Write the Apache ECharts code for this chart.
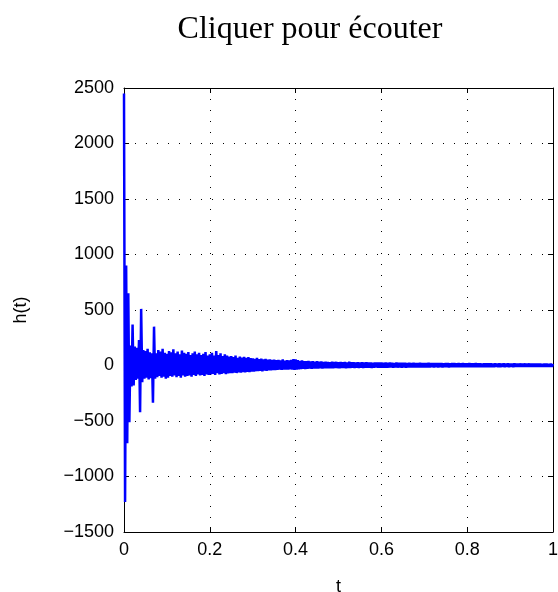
<!DOCTYPE html>
<html>
<head>
<meta charset="utf-8">
<script src="https://cdn.jsdelivr.net/npm/echarts@6/dist/echarts.min.js"></script>
<style>
html,body{margin:0;padding:0;background:#fff;}
#chart{width:558px;height:592px;}
</style>
</head>
<body>
<div id="chart"></div>
<script>
// Sampling step of the impulse response (seconds)
const sampleStep = 0.0025;

// h(t) values, one block per 0.05 s
const h_000 = [2450, -1230, 900, -700, 650, -510, 180, -190, 370, -180, 170, -130, 160, -120, 230, -420, 510, -150, 140, -120];
const h_005 = [130, -110, 150, -125, 120, -115, 110, -335, 350, -120, 110, -105, 140, -95, 125, -110, 150, -100, 115, -120];
const h_010 = [105, -110, 130, -95, 120, -100, 145, -90, 110, -105, 125, -95, 100, -110, 135, -90, 115, -100, 105, -95];
const h_015 = [120, -90, 95, -100, 110, -85, 125, -95, 100, -80, 115, -90, 95, -85, 105, -95, 120, -80, 90, -85];
const h_020 = [100, -80, 115, -75, 90, -85, 130, -70, 95, -80, 110, -75, 85, -70, 100, -78, 90, -72, 80, -70];
const h_025 = [85, -70, 75, -65, 90, -68, 70, -62, 80, -65, 72, -60, 78, -62, 68, -58, 75, -60, 66, -55];
const h_030 = [65, -55, 60, -52, 68, -50, 58, -48, 62, -52, 55, -46, 60, -48, 52, -45, 56, -44, 50, -42];
const h_035 = [52, -42, 48, -40, 50, -38, 46, -40, 55, -38, 44, -36, 48, -38, 45, -35, 50, -36, 58, -40];
const h_040 = [55, -38, 48, -34, 42, -32, 45, -30, 40, -33, 38, -30, 42, -28, 36, -30, 40, -28, 35, -27];
const h_045 = [38, -28, 34, -26, 36, -27, 32, -25, 35, -26, 33, -24, 30, -25, 34, -24, 31, -23, 33, -24];
const h_050 = [30, -24, 32, -23, 29, -22, 31, -24, 28, -22, 33, -23, 29, -21, 30, -22, 27, -21, 29, -22];
const h_055 = [28, -21, 30, -22, 26, -20, 29, -21, 27, -20, 28, -22, 25, -20, 27, -19, 26, -21, 28, -20];
const h_060 = [26, -20, 25, -19, 27, -20, 24, -19, 26, -18, 25, -20, 23, -18, 26, -19, 24, -18, 25, -19];
const h_065 = [24, -18, 25, -19, 23, -18, 24, -17, 22, -18, 25, -17, 23, -18, 22, -17, 24, -18, 23, -17];
const h_070 = [23, -17, 22, -18, 24, -17, 21, -16, 23, -17, 22, -16, 21, -17, 23, -16, 22, -17, 20, -16];
const h_075 = [22, -16, 21, -17, 20, -16, 22, -15, 21, -16, 20, -15, 22, -16, 19, -15, 21, -16, 20, -15];
const h_080 = [20, -15, 21, -16, 19, -15, 20, -14, 21, -15, 19, -14, 20, -15, 18, -14, 20, -15, 19, -14];
const h_085 = [19, -14, 20, -15, 18, -14, 19, -13, 18, -14, 20, -14, 17, -13, 19, -14, 18, -13, 19, -14];
const h_090 = [18, -13, 17, -14, 19, -13, 18, -13, 17, -12, 18, -13, 16, -12, 18, -13, 17, -12, 18, -13];
const h_095 = [17, -12, 16, -13, 17, -12, 16, -12, 17, -11, 15, -12, 16, -11, 17, -12, 15, -11, 16, -12, 15];

// Axis ticks
const xTicks = [0, 0.2, 0.4, 0.6, 0.8, 1];
const yTicks = [-1500, -1000, -500, 0, 500, 1000, 1500, 2000, 2500];

const titleText = 'Cliquer pour écouter';
const xLabel = 't';
const yLabel = 'h(t)';

const hValues = [].concat(h_000, h_005, h_010, h_015, h_020, h_025, h_030, h_035, h_040, h_045,
  h_050, h_055, h_060, h_065, h_070, h_075, h_080, h_085, h_090, h_095);
const seriesData = hValues.map((v, i) => [i * sampleStep, v]);

const sans = 'Liberation Sans, Arial, Helvetica, sans-serif';
const gridLine = { show: true, lineStyle: { color: '#000', width: 1, type: [1, 10] } };
const box = { show: true, onZero: false, lineStyle: { color: '#000', width: 1 } };
const ticksIn = { show: true, inside: true, length: 5, lineStyle: { color: '#000', width: 1 } };

const chart = echarts.init(document.getElementById('chart'), null, { renderer: 'canvas' });
chart.setOption({
  backgroundColor: '#fff',
  animation: false,
  title: {
    text: titleText,
    left: 305, top: 9, textAlign: 'center',
    textStyle: { fontFamily: 'Liberation Serif, Times New Roman, serif', fontSize: 32, fontWeight: 'normal', color: '#000' }
  },
  grid: { left: 124, right: 5, top: 88, bottom: 60, containLabel: false, outerBoundsMode: 'none' },
  xAxis: [{
    type: 'value', min: xTicks[0], max: xTicks[xTicks.length - 1], interval: 0.2,
    name: xLabel, nameLocation: 'middle', nameGap: 46,
    nameTextStyle: { fontFamily: sans, fontSize: 18, color: '#000' },
    axisLine: box, axisTick: ticksIn, splitLine: gridLine,
    axisLabel: { fontFamily: sans, fontSize: 18, color: '#000', margin: 9,
      formatter: v => (xTicks.indexOf(+v.toFixed(1)) >= 0 ? String(+v.toFixed(1)) : '') }
  }, {
    type: 'value', position: 'top', min: 0, max: 1, interval: 0.2,
    axisLine: box, axisTick: ticksIn, splitLine: { show: false }, axisLabel: { show: false }
  }],
  yAxis: [{
    type: 'value', min: yTicks[0], max: yTicks[yTicks.length - 1], interval: 500,
    name: yLabel, nameLocation: 'middle', nameGap: 94, nameRotate: 90,
    nameTextStyle: { fontFamily: sans, fontSize: 18, color: '#000' },
    axisLine: box, axisTick: ticksIn, splitLine: gridLine,
    axisLabel: { fontFamily: sans, fontSize: 18, color: '#000', margin: 10,
      formatter: v => (v < 0 ? '\u2212' + Math.abs(v) : String(v)) }
  }, {
    type: 'value', position: 'right', min: -1500, max: 2500, interval: 500,
    axisLine: box, axisTick: ticksIn, splitLine: { show: false }, axisLabel: { show: false }
  }],
  series: [{
    type: 'line', data: seriesData, xAxisIndex: 0, yAxisIndex: 0,
    showSymbol: false, symbol: 'none', sampling: null,
    lineStyle: { color: '#0000ff', width: 2.5 }, clip: true
  }]
});
</script>
</body>
</html>
